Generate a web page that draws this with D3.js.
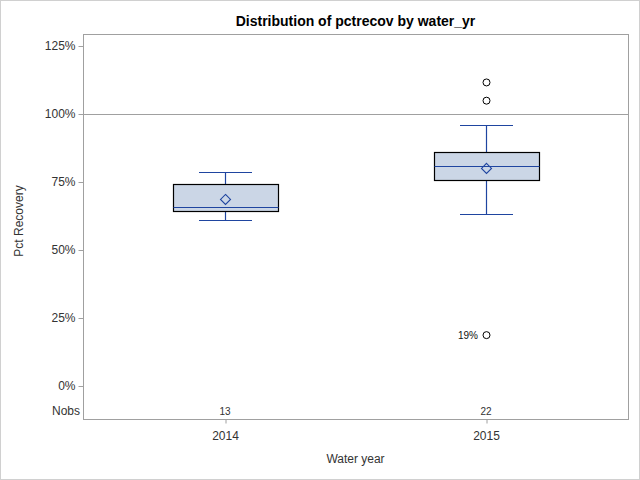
<!DOCTYPE html>
<meta charset="utf-8">
<script src="https://d3js.org/d3.v7.min.js"></script>
<style>
  body { margin: 0; }
  text { font-family: "Liberation Sans", Arial, sans-serif; }
</style>
<div id="my_dataviz"></div>
<script>

// data (percent)
var years = ["2014", "2015"];
var nobs = [13, 22];
var whiskerLow = [60.9, 63.1];
var q1 = [64.2, 75.6];
var median = [65.7, 80.8];
var q3 = [74.1, 85.9];
var whiskerHigh = [78.6, 95.8];
var means = [68.6, 80.0];
var outliers = [[], [111.6, 104.9, 18.7]];
var labelled = [[], [18.7]];
var yTicks = [0, 25, 50, 75, 100, 125];

var W = 640, H = 480;
var frame = {left: 83, right: 628, top: 34, bottom: 419};

var svg = d3.select("#my_dataviz")
  .append("svg")
    .attr("width", W)
    .attr("height", H);

// outer border
svg.append("rect")
  .attr("x", 0.5).attr("y", 0.5)
  .attr("width", W - 1).attr("height", H - 1)
  .style("fill", "white").style("stroke", "#d0d0d0");

// scales
var y = d3.scaleLinear().domain([0, 125]).range([386, 46]);
var x = d3.scalePoint().domain(years).range([225, 486]);

var lineCol = "#1f45a0";
var px = function(v) { return Math.round(v) + 0.5; };

// title
svg.append("text")
  .attr("x", (frame.left + frame.right) / 2).attr("y", 26)
  .attr("text-anchor", "middle")
  .style("font-size", "14px").style("font-weight", "bold")
  .text("Distribution of pctrecov by water_yr");

// reference line at 100%
svg.append("line")
  .attr("x1", frame.left).attr("x2", frame.right)
  .attr("y1", px(y(100))).attr("y2", px(y(100)))
  .style("stroke", "#a0a0a0");

// Y axis
var yAxis = svg.append("g")
  .attr("transform", "translate(" + (frame.left + 0.5) + ",0)")
  .call(d3.axisLeft(y).tickValues(yTicks).tickSize(5).tickFormat(function(d) { return d + "%"; }));
yAxis.select(".domain").remove();
yAxis.selectAll("line").style("stroke", "#a0a0a0");
yAxis.selectAll("text").style("font-size", "12px").style("fill", "#333").attr("x", -8);

// Nobs row
svg.append("text")
  .attr("x", frame.left - 3).attr("y", 415)
  .attr("text-anchor", "end")
  .style("font-size", "12px").style("fill", "#333")
  .text("Nobs");
svg.selectAll("nobs")
  .data(years)
  .enter()
  .append("text")
    .attr("x", function(d) { return x(d); })
    .attr("y", 415)
    .attr("text-anchor", "middle")
    .style("font-size", "10px").style("fill", "#333")
    .text(function(d, i) { return nobs[i]; });

// X axis
var xAxis = svg.append("g")
  .attr("transform", "translate(0," + (frame.bottom + 0.5) + ")")
  .call(d3.axisBottom(x).tickSize(4).tickSizeOuter(0));
xAxis.select(".domain").remove();
xAxis.selectAll("line").style("stroke", "#a0a0a0").attr("transform", "translate(0.5,0)");
xAxis.selectAll("text").style("font-size", "12px").style("fill", "#333").attr("y", 12);

// axis titles
svg.append("text")
  .attr("x", (frame.left + frame.right) / 2).attr("y", 463)
  .attr("text-anchor", "middle")
  .style("font-size", "12px").style("fill", "#333")
  .text("Water year");
svg.append("text")
  .attr("transform", "translate(23," + 221 + ") rotate(-90)")
  .attr("text-anchor", "middle")
  .style("font-size", "12px").style("fill", "#333")
  .text("Pct Recovery");

// frame
svg.append("rect")
  .attr("x", frame.left + 0.5).attr("y", frame.top + 0.5)
  .attr("width", frame.right - frame.left).attr("height", frame.bottom - frame.top)
  .style("fill", "none").style("stroke", "#a0a0a0");

var boxW = 105, capW = 53;

var g = svg.selectAll("boxes")
  .data(years)
  .enter()
  .append("g");

// whiskers
g.append("line")
  .attr("x1", function(d) { return px(x(d)); })
  .attr("x2", function(d) { return px(x(d)); })
  .attr("y1", function(d, i) { return px(y(whiskerLow[i])); })
  .attr("y2", function(d, i) { return px(y(whiskerHigh[i])); })
  .style("stroke", lineCol).style("stroke-width", 1.2);
[whiskerLow, whiskerHigh].forEach(function(arr) {
  g.append("line")
    .attr("x1", function(d) { return Math.round(x(d) - capW / 2); })
    .attr("x2", function(d) { return Math.round(x(d) + capW / 2); })
    .attr("y1", function(d, i) { return px(y(arr[i])); })
    .attr("y2", function(d, i) { return px(y(arr[i])); })
    .style("stroke", lineCol).style("stroke-width", 1.2);
});

// boxes
g.append("rect")
  .attr("x", function(d) { return px(x(d) - boxW / 2); })
  .attr("y", function(d, i) { return px(y(q3[i])); })
  .attr("width", boxW)
  .attr("height", function(d, i) { return Math.round(y(q1[i]) - y(q3[i])); })
  .style("fill", "#cbd6e6").style("stroke", "black").style("stroke-width", 1.2);

// median
g.append("line")
  .attr("x1", function(d) { return px(x(d) - boxW / 2); })
  .attr("x2", function(d) { return px(x(d) + boxW / 2); })
  .attr("y1", function(d, i) { return px(y(median[i])); })
  .attr("y2", function(d, i) { return px(y(median[i])); })
  .style("stroke", lineCol).style("stroke-width", 1.2);

// mean diamond
g.append("path")
  .attr("d", function(d, i) {
    var cx = x(d) + 0.5, cy = y(means[i]), r = 5;
    return "M" + cx + "," + (cy - r) + "L" + (cx + r) + "," + cy + "L" + cx + "," + (cy + r) + "L" + (cx - r) + "," + cy + "Z";
  })
  .style("fill", "none").style("stroke", lineCol).style("stroke-width", 1.1);

// outliers
years.forEach(function(yr, i) {
  svg.selectAll("out" + i)
    .data(outliers[i])
    .enter()
    .append("circle")
      .attr("cx", x(yr) + 0.5)
      .attr("cy", function(d) { return y(d); })
      .attr("r", 3.5)
      .style("fill", "none").style("stroke", "black").style("stroke-width", 1);
  svg.selectAll("lab" + i)
    .data(labelled[i])
    .enter()
    .append("text")
      .attr("x", x(yr) - 8)
      .attr("y", function(d) { return y(d) + 3.5; })
      .attr("text-anchor", "end")
      .style("font-size", "10px").style("fill", "#111")
      .text(function(d) { return Math.round(d) + "%"; });
});

</script>
